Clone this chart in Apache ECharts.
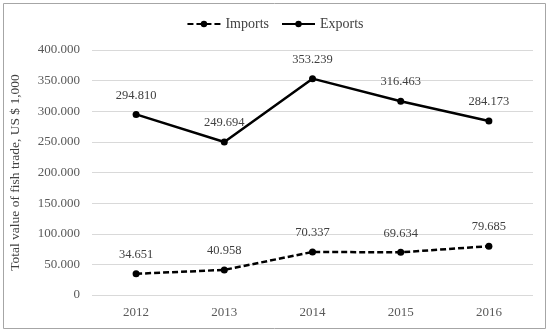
<!DOCTYPE html>
<html>
<head>
<meta charset="utf-8">
<script src="https://cdn.jsdelivr.net/npm/echarts@6/dist/echarts.min.js"></script>
<style>html,body{margin:0;padding:0;background:#fff}#c{width:550px;height:332px}</style>
</head>
<body>
<div id="c"></div>
<script>
const categories = ['2012', '2013', '2014', '2015', '2016'];
const imports = [34651, 40958, 70337, 69634, 79685];
const exportsData = [294810, 249694, 353239, 316463, 284173];
const yTicks = { min: 0, max: 400000, interval: 50000 };

function fmt(v) {
  if (v === 0) return '0';
  const s = String(Math.round(v));
  return s.replace(/\B(?=(\d{3})+(?!\d))/g, '.');
}

const font = 'Liberation Serif';
const chart = echarts.init(document.getElementById('c'), null, { renderer: 'canvas' });
chart.setOption({
  animation: false,
  textStyle: { fontFamily: font },
  graphic: [{
    type: 'rect',
    shape: { x: 3.5, y: 3.5, width: 542, height: 325 },
    style: { fill: 'none', stroke: '#a6a6a6', lineWidth: 1 }
  }],
  legend: {
    top: 12,
    left: 'center',
    itemWidth: 33,
    itemHeight: 8,
    itemGap: 12,
    textStyle: { fontFamily: font, fontSize: 14, color: '#404040' },
    data: ['Imports', 'Exports']
  },
  grid: { left: 90, right: 17, top: 50, bottom: 37 },
  xAxis: {
    type: 'category',
    data: categories,
    boundaryGap: true,
    axisLine: { show: false },
    axisTick: { show: false },
    axisLabel: { fontFamily: font, fontSize: 13, color: '#595959', margin: 11 }
  },
  yAxis: {
    type: 'value',
    min: yTicks.min,
    max: yTicks.max,
    interval: yTicks.interval,
    name: 'Total value of fish trade, US $ 1,000',
    nameLocation: 'middle',
    nameGap: 70,
    nameTextStyle: { fontFamily: font, fontSize: 13.5, color: '#404040' },
    axisLine: { show: false },
    axisTick: { show: false },
    splitLine: { lineStyle: { color: '#d9d9d9', width: 1 } },
    axisLabel: { fontFamily: font, fontSize: 13, color: '#595959', margin: 12, formatter: fmt }
  },
  series: [
    {
      name: 'Imports',
      type: 'line',
      data: imports,
      symbol: 'circle',
      symbolSize: 7,
      lineStyle: { color: '#000', width: 2.5, type: [6, 3] },
      itemStyle: { color: '#000' },
      label: { show: true, position: 'top', distance: 9, fontFamily: font, fontSize: 12.5, color: '#404040', formatter: p => fmt(p.value) }
    },
    {
      name: 'Exports',
      type: 'line',
      data: exportsData,
      symbol: 'circle',
      symbolSize: 7,
      lineStyle: { color: '#000', width: 2.5 },
      itemStyle: { color: '#000' },
      label: { show: true, position: 'top', distance: 9, fontFamily: font, fontSize: 12.5, color: '#404040', formatter: p => fmt(p.value) }
    }
  ]
});
</script>
</body>
</html>
